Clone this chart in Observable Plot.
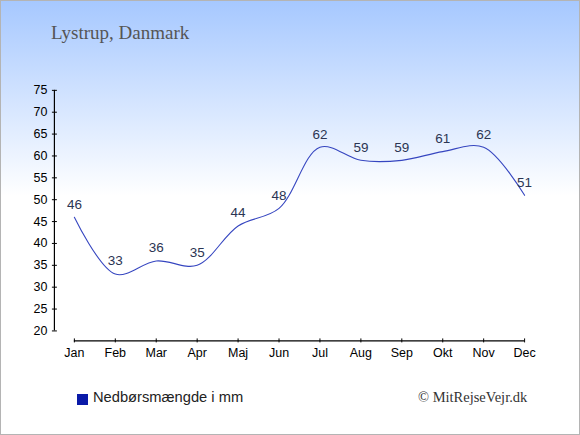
<!DOCTYPE html>
<html><head><meta charset="utf-8">
<script src="https://cdn.jsdelivr.net/npm/d3@7"></script>
<script src="https://cdn.jsdelivr.net/npm/@observablehq/plot@0.6"></script>
<style>
body{margin:0;}
#wrap{position:relative;width:580px;height:435px;box-sizing:border-box;border:1px solid #b4b4b4;background:linear-gradient(to bottom,#a6c8ff 0px,#ffffff 195px,#ffffff 100%);overflow:hidden;font-family:"Liberation Sans",Arial,sans-serif;}
#title{position:absolute;left:50px;top:22px;font-family:"Liberation Serif",serif;font-size:19px;line-height:19px;color:#555;white-space:nowrap;}
#chart{position:absolute;left:-1px;top:-1px;}
#sw{position:absolute;left:76px;top:393px;width:11px;height:11px;background:#0a1aa8;}
#legend{position:absolute;left:92px;top:388.5px;font-size:14.7px;line-height:14.7px;color:#222;white-space:nowrap;}
#credit{position:absolute;left:417px;top:388.5px;font-family:"Liberation Serif",serif;font-size:14.5px;line-height:14.5px;color:#333;white-space:nowrap;}
</style></head><body>
<div id="wrap"><div id="title">Lystrup, Danmark</div><div id="chart"></div><div id="sw"></div><div id="legend">Nedbørsmængde i mm</div><div id="credit">© MitRejseVejr.dk</div></div>
<script>
const months = ["Jan","Feb","Mar","Apr","Maj","Jun","Jul","Aug","Sep","Okt","Nov","Dec"];
const precipitation = [46,33,36,35,44,48,62,59,59,61,62,51];
const yTicks = [20,25,30,35,40,45,50,55,60,65,70,75];
const data = months.map((m,i)=>({month:m, value:precipitation[i]}));
const plot = Plot.plot({
  width:580, height:435, marginLeft:54, marginRight:55, marginTop:90, marginBottom:94,
  style:{background:"transparent", fontFamily:"Liberation Sans, Arial, sans-serif", fontSize:"12.5px", color:"#000"},
  x:{type:"point", domain:months, range:[74,525], padding:0},
  y:{domain:[20,75], range:[331,90]},
  marks:[
    Plot.ruleX([months[0]], {x:d=>d, y1:()=>yTicks[0], y2:()=>yTicks[yTicks.length-1], dx:-20, stroke:"#000", strokeWidth:1.2}),
    Plot.ruleY([yTicks[0]], {y:d=>d, x1:()=>months[0], x2:()=>months[months.length-1], dy:10, stroke:"#000", strokeWidth:1.2}),
    Plot.axisY({ticks:yTicks, tickSize:5, dx:3, tickPadding:5, label:null, fill:"#000", stroke:"#000"}),
    Plot.axisX({tickSize:4, dy:-2, tickPadding:5, label:null, fill:"#000", stroke:"#000"}),
    Plot.line(data, {x:"month", y:"value", curve:"catmull-rom", stroke:"#3646c0", strokeWidth:1.1}),
    Plot.text(data, {x:"month", y:"value", text:d=>String(d.value), dy:-13, fill:"#2b3553", fontSize:13.5})
  ]
});
document.getElementById("chart").appendChild(plot);
</script>
</body></html>
